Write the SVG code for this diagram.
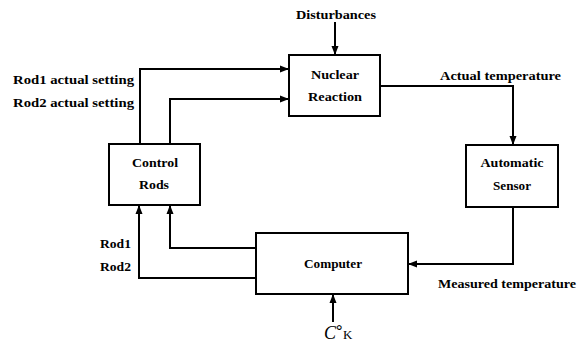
<svg xmlns="http://www.w3.org/2000/svg" width="580" height="342" viewBox="0 0 580 342">
<defs>
<marker id="ah" markerWidth="9" markerHeight="8" refX="8" refY="4" orient="auto" markerUnits="userSpaceOnUse">
<path d="M0,0.5 L9,4 L0,7.5 Z" fill="#000"/>
</marker>
</defs>
<style>
.box{fill:#fff;stroke:#000;stroke-width:2}
.ln{fill:none;stroke:#000;stroke-width:2}
.t{font-family:"Liberation Serif",serif;font-weight:bold;font-size:13.5px;fill:#000}
.c{text-anchor:middle}
</style>
<rect width="580" height="342" fill="#fff"/>
<g id="connectors">
<path class="ln" d="M335,22 V54" marker-end="url(#ah)"/>
<path class="ln" d="M140,144 V69 H288" marker-end="url(#ah)"/>
<path class="ln" d="M170,144 V99 H288" marker-end="url(#ah)"/>
<path class="ln" d="M380,86 H513 V144" marker-end="url(#ah)"/>
<path class="ln" d="M513,207 V264 H409" marker-end="url(#ah)"/>
<path class="ln" d="M256,248 H170 V206" marker-end="url(#ah)"/>
<path class="ln" d="M256,278 H139 V206" marker-end="url(#ah)"/>
<path class="ln" d="M333,322 V295" marker-end="url(#ah)"/>
</g>
<g id="nuclear">
<rect class="box" x="289" y="55" width="91" height="61"/>
<text class="t c" x="335" y="79" textLength="48" lengthAdjust="spacingAndGlyphs">Nuclear</text>
<text class="t c" x="335" y="101" textLength="54" lengthAdjust="spacingAndGlyphs">Reaction</text>
</g>
<g id="sensor">
<rect class="box" x="466" y="145" width="92" height="62"/>
<text class="t c" x="512" y="167" textLength="63" lengthAdjust="spacingAndGlyphs">Automatic</text>
<text class="t c" x="512" y="190" textLength="38" lengthAdjust="spacingAndGlyphs">Sensor</text>
</g>
<g id="rods">
<rect class="box" x="109" y="144" width="91" height="61"/>
<text class="t c" x="155" y="167" textLength="46" lengthAdjust="spacingAndGlyphs">Control</text>
<text class="t c" x="154" y="189" textLength="30" lengthAdjust="spacingAndGlyphs">Rods</text>
</g>
<g id="computer">
<rect class="box" x="256" y="233" width="152" height="61"/>
<text class="t c" x="333" y="268" textLength="58" lengthAdjust="spacingAndGlyphs">Computer</text>
</g>
<g id="labels">
<text class="t c" x="336" y="19" textLength="80" lengthAdjust="spacingAndGlyphs">Disturbances</text>
<text class="t" x="13" y="84" textLength="121" lengthAdjust="spacingAndGlyphs">Rod1 actual setting</text>
<text class="t" x="13" y="107" textLength="121" lengthAdjust="spacingAndGlyphs">Rod2 actual setting</text>
<text class="t" x="440" y="80" textLength="121" lengthAdjust="spacingAndGlyphs">Actual temperature</text>
<text class="t" x="438" y="288" textLength="138" lengthAdjust="spacingAndGlyphs">Measured temperature</text>
<text class="t" x="100" y="248" textLength="31" lengthAdjust="spacingAndGlyphs">Rod1</text>
<text class="t" x="100" y="271" textLength="31" lengthAdjust="spacingAndGlyphs">Rod2</text>
<text x="324" y="339" style="font-family:'Liberation Serif',serif;font-size:18px;font-style:italic">C</text>
<text x="336" y="336" style="font-family:'Liberation Serif',serif;font-size:16px;font-weight:bold">°</text>
<text x="343" y="339" style="font-family:'Liberation Serif',serif;font-size:13px">K</text>
</g>
</svg>
